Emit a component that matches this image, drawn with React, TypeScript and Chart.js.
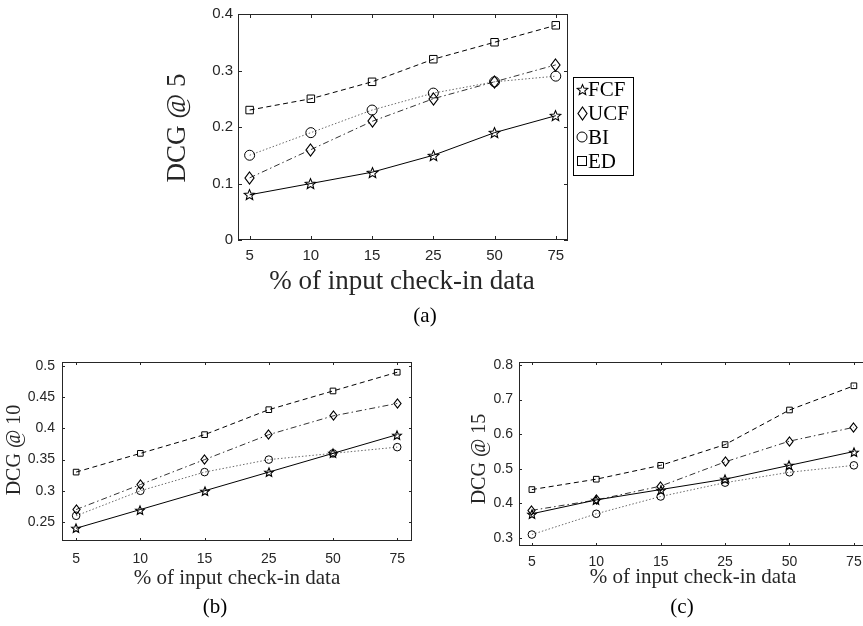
import React, { useEffect, useRef } from 'react';
import { Chart, registerables } from 'chart.js';
Chart.register(...registerables);

// ---------- data ----------
const xLabels = ['5', '10', '15', '25', '50', '75'];
const seriesNames = ['FCF', 'UCF', 'BI', 'ED'];

const fcfA = [0.08, 0.10, 0.12, 0.15, 0.19, 0.22];
const ucfA = [0.11, 0.16, 0.21, 0.25, 0.28, 0.31];
const biA = [0.15, 0.19, 0.23, 0.26, 0.28, 0.29];
const edA = [0.23, 0.25, 0.28, 0.32, 0.35, 0.38];

const fcfB = [0.24, 0.27, 0.30, 0.33, 0.36, 0.39];
const ucfB = [0.27, 0.31, 0.35, 0.39, 0.42, 0.44];
const biB = [0.26, 0.30, 0.33, 0.35, 0.36, 0.37];
const edB = [0.33, 0.36, 0.39, 0.43, 0.46, 0.49];

const fcfC = [0.37, 0.41, 0.44, 0.47, 0.51, 0.55];
const ucfC = [0.38, 0.41, 0.45, 0.52, 0.58, 0.62];
const biC = [0.31, 0.37, 0.42, 0.46, 0.49, 0.51];
const edC = [0.44, 0.47, 0.51, 0.57, 0.67, 0.74];

const yTicksA = [0, 0.1, 0.2, 0.3, 0.4];
const yTickLabelsA = ['0', '0.1', '0.2', '0.3', '0.4'];
const yTicksB = [0.25, 0.3, 0.35, 0.4, 0.45, 0.5];
const yTickLabelsB = ['0.25', '0.3', '0.35', '0.4', '0.45', '0.5'];
const yTicksC = [0.3, 0.4, 0.5, 0.6, 0.7, 0.8];
const yTickLabelsC = ['0.3', '0.4', '0.5', '0.6', '0.7', '0.8'];

const xTitle = '% of input check-in data';

// ---------- markers ----------
function makeCanvas(w: number, h: number) {
  const c = document.createElement('canvas');
  c.width = w;
  c.height = h;
  return c;
}
function starPath(ctx: CanvasRenderingContext2D, cx: number, cy: number, R: number) {
  ctx.beginPath();
  for (let k = 0; k < 10; k++) {
    const a = -Math.PI / 2 + (k * Math.PI) / 5;
    const r = k % 2 === 0 ? R : R * 0.45;
    const x = cx + r * Math.cos(a);
    const y = cy + r * Math.sin(a);
    if (k === 0) ctx.moveTo(x, y);
    else ctx.lineTo(x, y);
  }
  ctx.closePath();
}
function makeStar(R: number) {
  const s = Math.ceil(2 * R + 4);
  const c = makeCanvas(s, s);
  const ctx = c.getContext('2d')!;
  ctx.strokeStyle = '#000';
  ctx.lineWidth = 1.1;
  starPath(ctx, s / 2, s / 2 + 0.6, R);
  ctx.stroke();
  return c;
}
function makeDiamond(w: number, h: number) {
  const cw = Math.ceil(w + 4);
  const ch = Math.ceil(h + 4);
  const c = makeCanvas(cw, ch);
  const ctx = c.getContext('2d')!;
  ctx.strokeStyle = '#000';
  ctx.lineWidth = 1.2;
  const cx = cw / 2, cy = ch / 2;
  ctx.beginPath();
  ctx.moveTo(cx, cy - h / 2);
  ctx.lineTo(cx + w / 2, cy);
  ctx.lineTo(cx, cy + h / 2);
  ctx.lineTo(cx - w / 2, cy);
  ctx.closePath();
  ctx.stroke();
  return c;
}

type Panel = {
  key: string;
  left: number; top: number; w: number; h: number;
  area: { l: number; t: number; r: number; b: number };
  xMin: number; xMax: number; yMin: number; yMax: number;
  yTicks: number[]; yTickLabels: string[];
  series: number[][];
  tickFont: number; xPad: number; yPad: number; tickLen: number;
  yTitle: string; yTitlePos: [number, number]; yTitleSize: number;
  xTitlePos: [number, number]; xTitleSize: number;
  tag: string; tagPos: [number, number]; tagSize: number;
  mk: { star: number; dw: number; dh: number; circ: number; rect: number };
  legend?: boolean;
};

const panels: Panel[] = [
  {
    key: 'a', left: 150, top: 0, w: 500, h: 340,
    area: { l: 238, t: 11, r: 568, b: 240 },
    xMin: -0.19, xMax: 5.2, yMin: 0, yMax: 0.4,
    yTicks: yTicksA, yTickLabels: yTickLabelsA,
    series: [fcfA, ucfA, biA, edA],
    tickFont: 15, xPad: 7, yPad: 5, tickLen: 4,
    yTitle: 'DCG @ 5', yTitlePos: [178, 128], yTitleSize: 27,
    xTitlePos: [402, 282], xTitleSize: 27,
    tag: '(a)', tagPos: [425, 316], tagSize: 21,
    mk: { star: 5.5, dw: 9, dh: 12, circ: 5, rect: 5.3 },
    legend: true,
  },
  {
    key: 'b', left: 0, top: 345, w: 430, h: 281,
    area: { l: 62, t: 362, r: 412, b: 541 },
    xMin: -0.22, xMax: 5.23, yMin: 0.2196, yMax: 0.5064,
    yTicks: yTicksB, yTickLabels: yTickLabelsB,
    series: [fcfB, ucfB, biB, edB],
    tickFont: 14, xPad: 10, yPad: 7, tickLen: 3,
    yTitle: 'DCG @ 10', yTitlePos: [15, 450], yTitleSize: 20,
    xTitlePos: [237, 578], xTitleSize: 21,
    tag: '(b)', tagPos: [215, 607], tagSize: 21,
    mk: { star: 4.6, dw: 7, dh: 9, circ: 3.8, rect: 4 },
  },
  {
    key: 'c', left: 440, top: 345, w: 440, h: 281,
    area: { l: 519, t: 362, r: 870, b: 546 },
    xMin: -0.2, xMax: 5.25, yMin: 0.2769, yMax: 0.8087,
    yTicks: yTicksC, yTickLabels: yTickLabelsC,
    series: [fcfC, ucfC, biC, edC],
    tickFont: 14, xPad: 8, yPad: 6, tickLen: 3,
    yTitle: 'DCG @ 15', yTitlePos: [480, 459], yTitleSize: 20,
    xTitlePos: [693, 577], xTitleSize: 21,
    tag: '(c)', tagPos: [682, 607], tagSize: 21,
    mk: { star: 4.6, dw: 7, dh: 9, circ: 3.8, rect: 4 },
  },
];

const lineColors = ['#000000', '#333333', '#6a6a6a', '#000000'];
const lineDashes = [[], [6, 3, 1.5, 3], [1.5, 2], [5, 3.5]];
const axisColor = '#262626';
const serif = '"Liberation Serif", "Times New Roman", serif';
const sans = '"Liberation Sans", Arial, sans-serif';

function buildConfig(p: Panel): any {
  const star = makeStar(p.mk.star);
  const diamond = makeDiamond(p.mk.dw, p.mk.dh);
  const styles: any[] = [star, diamond, 'circle', 'rect'];
  const radii = [p.mk.star, p.mk.dh / 2, p.mk.circ, p.mk.rect];
  const datasets = p.series.map((vals, si) => ({
    label: seriesNames[si],
    data: vals.map((v, i) => ({ x: i, y: v })),
    borderColor: lineColors[si],
    borderWidth: 1,
    borderDash: lineDashes[si],
    pointStyle: styles[si],
    pointRadius: radii[si],
    pointHoverRadius: radii[si],
    pointBorderColor: '#000',
    pointBorderWidth: 1,
    pointBackgroundColor: 'rgba(0,0,0,0)',
    fill: false,
    tension: 0,
  }));

  const legendStar = makeStar(5.5);
  const legendDiamond = makeDiamond(9, 13);

  const frame = {
    id: 'frame' + p.key,
    beforeDatasetsDraw(chart: any) {
      chart.ctx.imageSmoothingEnabled = false;
    },
    afterDatasetsDraw(chart: any) {
      const ctx: CanvasRenderingContext2D = chart.ctx;
      const { left, right, top, bottom } = chart.chartArea;
      const xs = chart.scales.x;
      const ys = chart.scales.y;
      ctx.save();
      ctx.strokeStyle = axisColor;
      ctx.lineWidth = 1;
      ctx.strokeRect(left + 0.5, top + 0.5, right - left - 1, bottom - top - 1);
      ctx.beginPath();
      xLabels.forEach((_, i) => {
        const px = Math.round(xs.getPixelForValue(i)) + 0.5;
        ctx.moveTo(px, bottom);
        ctx.lineTo(px, bottom - p.tickLen);
        ctx.moveTo(px, top);
        ctx.lineTo(px, top + p.tickLen);
      });
      p.yTicks.forEach((v) => {
        const py = Math.round(ys.getPixelForValue(v)) + 0.5;
        ctx.moveTo(left, py);
        ctx.lineTo(left + p.tickLen, py);
        ctx.moveTo(right, py);
        ctx.lineTo(right - p.tickLen, py);
      });
      ctx.stroke();

      const ox = p.left, oy = p.top;
      ctx.fillStyle = axisColor;
      ctx.textAlign = 'center';
      ctx.textBaseline = 'middle';
      // y title
      ctx.save();
      ctx.translate(p.yTitlePos[0] - ox, p.yTitlePos[1] - oy);
      ctx.rotate(-Math.PI / 2);
      ctx.font = `${p.yTitleSize}px ${serif}`;
      ctx.fillText(p.yTitle, 0, 0);
      ctx.restore();
      // x title
      ctx.font = `${p.xTitleSize}px ${serif}`;
      ctx.fillText(xTitle, p.xTitlePos[0] - ox, p.xTitlePos[1] - oy);
      // tag
      ctx.fillStyle = '#000';
      ctx.font = `${p.tagSize}px ${serif}`;
      ctx.fillText(p.tag, p.tagPos[0] - ox, p.tagPos[1] - oy);

      if (p.legend) {
        const bx = 573 - ox, by = 77 - oy, bw = 60, bh = 98;
        ctx.fillStyle = '#fff';
        ctx.fillRect(bx, by, bw, bh);
        ctx.strokeStyle = '#000';
        ctx.strokeRect(bx + 0.5, by + 0.5, bw, bh);
        const rows = [89, 113, 137, 161];
        const mx = 582 - ox;
        seriesNames.forEach((name, i) => {
          const my = rows[i] - oy;
          ctx.strokeStyle = '#000';
          ctx.lineWidth = 1;
          if (i === 0) ctx.drawImage(legendStar, Math.round(mx - legendStar.width / 2), Math.round(my - legendStar.height / 2));
          if (i === 1) ctx.drawImage(legendDiamond, Math.round(mx - legendDiamond.width / 2), Math.round(my - legendDiamond.height / 2));
          if (i === 2) {
            ctx.beginPath();
            ctx.arc(mx, my, 5, 0, Math.PI * 2);
            ctx.stroke();
          }
          if (i === 3) ctx.strokeRect(mx - 4.5, my - 4.5, 9, 9);
          ctx.fillStyle = '#000';
          ctx.textAlign = 'left';
          ctx.font = `21px ${serif}`;
          ctx.fillText(name, 588 - ox, my + 1);
        });
      }
      ctx.restore();
    },
  };

  const yW = p.area.l - p.left;
  const xH = p.top + p.h - p.area.b;
  return {
    type: 'line',
    data: { datasets },
    options: {
      animation: false,
      responsive: false,
      maintainAspectRatio: false,
      layout: { padding: { top: p.area.t - p.top, right: p.left + p.w - p.area.r, left: 0, bottom: 0 } },
      plugins: { legend: { display: false }, tooltip: { enabled: false }, title: { display: false } },
      scales: {
        x: {
          type: 'linear',
          min: p.xMin,
          max: p.xMax,
          afterBuildTicks: (s: any) => { s.ticks = xLabels.map((_, i) => ({ value: i })); },
          afterFit: (s: any) => { s.height = xH; },
          grid: { display: false, drawTicks: false },
          border: { display: false },
          ticks: {
            autoSkip: false, maxRotation: 0, padding: p.xPad, color: axisColor,
            font: { family: sans, size: p.tickFont },
            callback: (_v: any, i: number) => xLabels[i],
          },
        },
        y: {
          type: 'linear',
          min: p.yMin,
          max: p.yMax,
          afterBuildTicks: (s: any) => { s.ticks = p.yTicks.map((v) => ({ value: v })); },
          afterFit: (s: any) => { s.width = yW; },
          grid: { display: false, drawTicks: false },
          border: { display: false },
          ticks: {
            autoSkip: false, padding: p.yPad, color: axisColor,
            font: { family: sans, size: p.tickFont },
            callback: (_v: any, i: number) => p.yTickLabels[i],
          },
        },
      },
    },
    plugins: [frame],
  };
}

function PanelChart({ p }: { p: Panel }) {
  const ref = useRef<HTMLCanvasElement>(null);
  useEffect(() => {
    const chart = new Chart(ref.current!, buildConfig(p));
    return () => chart.destroy();
  }, [p]);
  return (
    <canvas
      ref={ref}
      width={p.w}
      height={p.h}
      style={{ position: 'absolute', left: p.left, top: p.top, width: p.w, height: p.h }}
    />
  );
}

export default function App() {
  return (
    <div style={{ position: 'absolute', left: 0, top: 0, width: 863, height: 626, overflow: 'hidden', background: '#fff' }}>
      {panels.map((p) => (
        <PanelChart key={p.key} p={p} />
      ))}
    </div>
  );
}
